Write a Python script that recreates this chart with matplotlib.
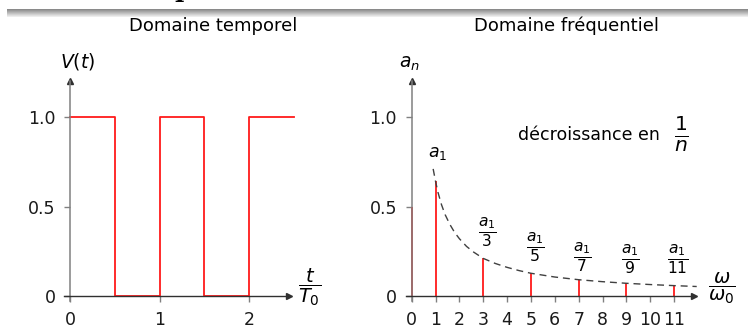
import matplotlib
matplotlib.use("Agg")
from matplotlib import pyplot as plt
import numpy as np

plt.rcParams['font.family'] = ['DejaVu Sans']
plt.rcParams['mathtext.fontset'] = 'dejavusans'
plt.rcParams['font.size'] = 12

# signal carre (domaine temporel)
t_pts = [0, 0.5, 1, 1.5, 2, 2.5]
v_pts = [1, 0, 1, 0, 1, 1]

# spectre (domaine frequentiel)
n_harm = [0, 1, 3, 5, 7, 9, 11]
a_n = [0.5, 0.64, 0.21, 0.13, 0.09, 0.07, 0.06]

# enveloppe en 1/n
env_x = [0.9, 1.0, 1.1, 1.25, 1.4, 1.6, 1.8, 2.0, 2.3, 2.6, 3.0, 3.5, 4.0, 4.5, 5.0,
         6.0, 7.0, 8.0, 9.0, 10.0, 11.0, 11.95]
env_y = [0.71, 0.64, 0.58, 0.51, 0.455, 0.40, 0.355, 0.32, 0.277, 0.245, 0.21, 0.182,
         0.16, 0.142, 0.127, 0.106, 0.091, 0.08, 0.071, 0.064, 0.058, 0.053]

frac_n = [3, 5, 7, 9, 11]
frac_y = [0.35, 0.27, 0.215, 0.2, 0.2]

W, H = 748, 329
fig = plt.figure(figsize=(W / 100, H / 100), dpi=100)

# bandeau gris du haut (titre beamer)
band = fig.add_axes([7 / W, 1 - 17 / H, (W - 7) / W, 8 / H])
grad = np.linspace(0.52, 0.95, 32).reshape(-1, 1)
band.imshow(grad, aspect='auto', cmap='gray', vmin=0, vmax=1)
band.axis('off')
fig.text(174 / W, 1 + 2.5 / H, 'p', fontsize=18, fontweight='bold',
         family='DejaVu Serif', va='baseline', ha='left', color='black')

fig.text(213 / W, 1 - 26 / H, 'Domaine temporel', ha='center', va='center', fontsize=13)
fig.text(566 / W, 1 - 26 / H, 'Domaine fréquentiel', ha='center', va='center', fontsize=13)


def make_axes(px0, px1, x0pix, xunit, xlim_arrow, xticks):
    top, bot = 40, 310
    y0pix, yunit = 296, 179
    ax = fig.add_axes([px0 / W, (H - bot) / H, (px1 - px0) / W, (bot - top) / H])
    ax.set_xlim((px0 - x0pix) / xunit, (px1 - x0pix) / xunit)
    ax.set_ylim((y0pix - bot) / yunit, (y0pix - top) / yunit)
    ax.patch.set_alpha(0)
    for s in ['top', 'right']:
        ax.spines[s].set_visible(False)
    ax.spines['left'].set_position(('data', 0))
    ax.spines['bottom'].set_position(('data', 0))
    ax.spines['left'].set_bounds(-0.03, 1.2)
    ax.spines['bottom'].set_bounds(xlim_arrow[0], xlim_arrow[1])
    ax.spines['left'].set_color('#808080')
    ax.spines['bottom'].set_color('#303030')
    ax.spines['left'].set_linewidth(1.1)
    ax.spines['bottom'].set_linewidth(1.0)
    ax.plot([0], [1.2], marker='^', ms=4, color='#303030', clip_on=False)
    ax.plot([xlim_arrow[1]], [0], marker='>', ms=4, color='#303030', clip_on=False)
    ax.set_yticks([0, 0.5, 1.0])
    ax.set_yticklabels(['0', '0.5', '1.0'])
    ax.set_xticks(xticks)
    ax.set_xticklabels([str(v) for v in xticks])
    ax.tick_params(length=4, width=1, color='#808080', pad=6.5, labelcolor='#1a1a1a',
                   labelsize=12.5)
    return ax


# ---- temporel
ax1 = make_axes(40, 330, 70, 89.5, (-0.07, 2.45), [0, 1, 2])
ax1.step(t_pts, v_pts, where='post', color='#ff1a1a', lw=1.3)
ax1.text(0.09, 1.31, r'$V(t)$', ha='center', va='center', fontsize=13.5)
ax1.text(2.68, 0.05, r'$\dfrac{t}{T_0}$', ha='center', va='center', fontsize=14)

# ---- frequentiel
ax2 = make_axes(380, 745, 411.7, 23.85, (-0.25, 11.85), list(range(12)))
ax2.vlines(n_harm, 0, a_n, color='#ff1a1a', lw=1.3)
ax2.plot(env_x, env_y, color='#404040', lw=1.0, linestyle=(0, (5, 3.5)))
ax2.text(-0.1, 1.30, r'$a_n$', ha='center', va='center', fontsize=13.5)
ax2.text(13.0, 0.045, r'$\dfrac{\omega}{\omega_0}$', ha='center', va='center', fontsize=14)
ax2.text(1.1, 0.80, r'$a_1$', ha='center', va='center', fontsize=12.5)
for n, y in zip(frac_n, frac_y):
    ax2.text(n + 0.17, y, r'$\frac{a_1}{%d}$' % n, ha='center', va='center', fontsize=16)
ax2.text(4.46, 0.9, 'décroissance en', ha='left', va='center', fontsize=12.5)
ax2.text(11.33, 0.9, r'$\frac{1}{n}$', ha='center', va='center', fontsize=21)

fig.savefig('out.png', dpi=100)
